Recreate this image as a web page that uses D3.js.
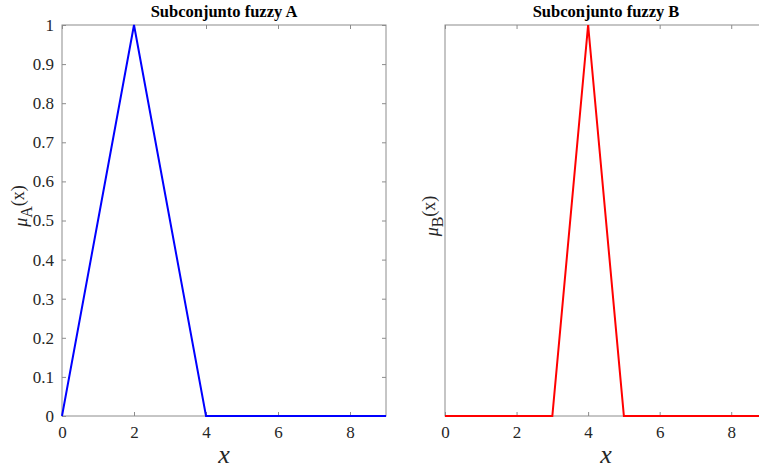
<!DOCTYPE html>
<html>
<head>
<meta charset="utf-8">
<script src="https://cdn.jsdelivr.net/npm/d3@7"></script>
<style>
  html, body { margin: 0; padding: 0; background: #fff; overflow: hidden; }
  svg { display: block; }
</style>
</head>
<body>
<svg id="chart" width="759" height="472"></svg>
<script>
// Sample points of the universe of discourse
const xValues = [0, 1, 2, 3, 4, 5, 6, 7, 8, 9];
// Membership degrees of fuzzy subset A (triangle 0-2-4)
const muA = [0, 0.5, 1, 0.5, 0, 0, 0, 0, 0, 0];
// Membership degrees of fuzzy subset B (triangle 3-4-5)
const muB = [0, 0, 0, 0, 1, 0, 0, 0, 0, 0];
const xTicks = [0, 2, 4, 6, 8];
const yTicksA = [0, 0.1, 0.2, 0.3, 0.4, 0.5, 0.6, 0.7, 0.8, 0.9, 1];
const titles = ["Subconjunto fuzzy A", "Subconjunto fuzzy B"];
const subs = ["A", "B"];

const serif = "Liberation Serif, Times New Roman, DejaVu Serif, serif";
const svg = d3.select("#chart").attr("font-family", serif);
const axisColor = "#8c8c8c";
const textColor = "#262626";

const panels = [
  { left: 62, right: 386, values: muA, color: "#0000ff", yTicks: yTicksA },
  { left: 445, right: 767, values: muB, color: "#ff0000", yTicks: [] }
];
const plotTop = 25, plotBottom = 416;

panels.forEach((p, i) => {
  const x = d3.scaleLinear().domain([0, 9]).range([p.left, p.right]);
  const y = d3.scaleLinear().domain([0, 1]).range([plotBottom, plotTop]);
  const g = svg.append("g");

  // frame
  g.append("rect")
    .attr("x", p.left).attr("y", plotTop)
    .attr("width", p.right - p.left).attr("height", plotBottom - plotTop)
    .attr("fill", "none").attr("stroke", axisColor).attr("stroke-width", 1);

  // bottom axis
  const xb = g.append("g").attr("transform", `translate(0,${plotBottom})`)
    .call(d3.axisBottom(x).tickValues(xTicks).tickSize(-4).tickPadding(10).tickFormat(d3.format("d")));
  // top ticks
  const xt = g.append("g").attr("transform", `translate(0,${plotTop})`)
    .call(d3.axisTop(x).tickValues(xTicks).tickSize(-4).tickFormat(""));
  // left axis
  const yl = g.append("g").attr("transform", `translate(${p.left},0)`)
    .call(d3.axisLeft(y).tickValues(p.yTicks).tickSize(-4).tickPadding(8).tickFormat(d3.format("")));
  // right ticks
  const yr = g.append("g").attr("transform", `translate(${p.right},0)`)
    .call(d3.axisRight(y).tickValues(p.yTicks).tickSize(-4).tickFormat(""));

  [xb, xt, yl, yr].forEach(a => {
    a.attr("font-family", serif).attr("font-size", 17);
    a.select(".domain").remove();
    a.selectAll("line").attr("stroke", axisColor);
    a.selectAll("text").attr("fill", textColor);
  });

  // membership line
  const line = d3.line().x((d, k) => x(xValues[k])).y(d => y(d));
  g.append("path").datum(p.values)
    .attr("d", line).attr("fill", "none")
    .attr("stroke", p.color).attr("stroke-width", 2)
    .attr("stroke-linejoin", "miter");

  // title
  g.append("text")
    .attr("x", x(4.5)).attr("y", 17)
    .attr("text-anchor", "middle").attr("font-weight", "bold")
    .attr("font-size", 16.5).attr("fill", "#000")
    .text(titles[i]);

  // x label
  g.append("text")
    .attr("x", x(4.5)).attr("y", 463)
    .attr("text-anchor", "middle").attr("font-style", "italic")
    .attr("font-size", 26).attr("fill", textColor)
    .text("x");

  // y label: μ_A(x)
  const lx = i === 0 ? 27 : 438;
  const ly = i === 0 ? 206 : 216;
  const yt = g.append("text")
    .attr("transform", `translate(${lx},${ly}) rotate(-90)`)
    .attr("text-anchor", "middle").attr("fill", textColor)
    .attr("font-size", 18);
  yt.append("tspan").attr("font-style", "italic").text("\u03bc");
  yt.append("tspan").attr("dy", 5).attr("font-size", 16).text(subs[i]);
  yt.append("tspan").attr("dy", -8).text("(x)");
});
</script>
</body>
</html>
